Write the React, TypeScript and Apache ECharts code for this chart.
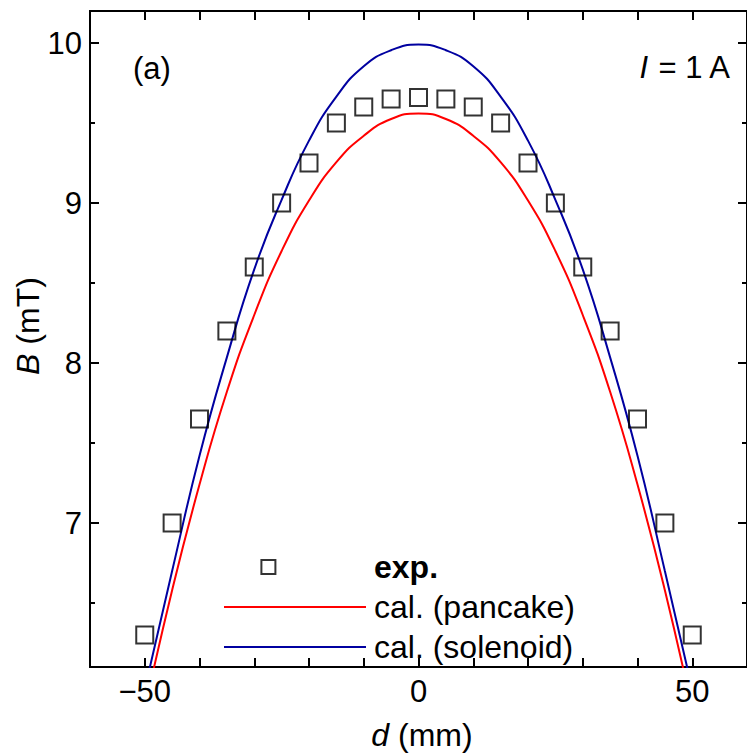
import React, { useEffect, useRef } from "react";
import * as echarts from "echarts";

// Experimental points
const dExp = [-50, -45, -40, -35, -30, -25, -20, -15, -10, -5, 0, 5, 10, 15, 20, 25, 30, 35, 40, 45, 50];
const bExp = [6.3, 7.0, 7.65, 8.2, 8.6, 9.0, 9.25, 9.5, 9.6, 9.65, 9.66, 9.65, 9.6, 9.5, 9.25, 9.0, 8.6, 8.2, 7.65, 7.0, 6.3];

// Calculated curves
const dCal = [-50, -45, -40, -35, -30, -25, -20, -15, -10, -5, 0, 5, 10, 15, 20, 25, 30, 35, 40, 45, 50];
const bPancake = [5.835, 6.58, 7.24, 7.82, 8.3, 8.7, 9.015, 9.255, 9.42, 9.525, 9.56, 9.525, 9.42, 9.255, 9.015, 8.7, 8.3, 7.82, 7.24, 6.58, 5.835];
const bSolenoid = [5.96, 6.7, 7.42, 8.035, 8.585, 9.02, 9.39, 9.665, 9.855, 9.955, 9.99, 9.955, 9.855, 9.665, 9.39, 9.02, 8.585, 8.035, 7.42, 6.7, 5.96];

// Ticks
const xLabelTicks = [-50, 0, 50];
const yMajorTicks = [7, 8, 9, 10];
const yMinorTicks = [6.5, 7.5, 8.5, 9.5];

const FONT = "'Liberation Sans', Arial, Helvetica, sans-serif";

export default function App() {
  const ref = useRef<HTMLDivElement>(null);
  useEffect(() => {
    if (!ref.current) return;
    const chart = echarts.init(ref.current, null, { renderer: "svg" });
    const axisLine = { show: true, onZero: false, lineStyle: { color: "#000", width: 2 } };
    const xCommon = {
      type: "value",
      min: -60,
      max: 60,
      interval: 10,
      splitLine: { show: false },
      axisLine,
    };
    const yCommon = {
      type: "value",
      min: 6.1,
      max: 10.2,
      splitLine: { show: false },
      axisLine,
    };
    const option: any = {
      animation: false,
      backgroundColor: "#fff",
      textStyle: { fontFamily: FONT },
      grid: { left: 90, top: 11, width: 663, height: 656, containLabel: false },
      xAxis: [
        {
          ...xCommon,
          position: "bottom",
          axisTick: { show: true, inside: true, length: 9, lineStyle: { color: "#000", width: 2 } },
          axisLabel: {
            show: true,
            customValues: xLabelTicks,
            margin: 9,
            fontSize: 31,
            color: "#000",
            fontFamily: FONT,
            formatter: (v: number) => String(v).replace("-", "\u2212"),
          },
        },
        {
          ...xCommon,
          position: "top",
          axisTick: { show: true, inside: true, length: 9, lineStyle: { color: "#000", width: 2 } },
          axisLabel: { show: false },
        },
      ],
      yAxis: [
        {
          ...yCommon,
          position: "left",
          axisTick: { show: true, inside: true, length: 9, customValues: yMajorTicks, lineStyle: { color: "#000", width: 2 } },
          axisLabel: { show: true, customValues: yMajorTicks, margin: 8, fontSize: 31, color: "#000", fontFamily: FONT },
        },
        {
          ...yCommon,
          position: "left",
          axisTick: { show: true, inside: true, length: 5, customValues: yMinorTicks, lineStyle: { color: "#000", width: 2 } },
          axisLabel: { show: false },
        },
        {
          ...yCommon,
          position: "right",
          axisTick: { show: true, inside: true, length: 9, customValues: yMajorTicks, lineStyle: { color: "#000", width: 2 } },
          axisLabel: { show: false },
        },
        {
          ...yCommon,
          position: "right",
          axisTick: { show: true, inside: true, length: 5, customValues: yMinorTicks, lineStyle: { color: "#000", width: 2 } },
          axisLabel: { show: false },
        },
      ],
      legend: {
        orient: "vertical",
        left: 218,
        top: 546,
        itemWidth: 142,
        itemHeight: 14,
        itemGap: 8,
        symbolKeepAspect: true,
        textStyle: { fontSize: 32, lineHeight: 31, color: "#000", fontFamily: FONT, padding: [0, 0, 0, 3] },
        data: [
          {
            name: "exp.",
            icon: "path://M0,0 L10,0 L10,10 L0,10 Z M48,5 L48,5",
            itemStyle: { color: "rgba(0,0,0,0)", borderColor: "#000", borderWidth: 2 },
            textStyle: { fontWeight: "bold" },
          },
          { name: "cal. (pancake)", itemStyle: { opacity: 0 } },
          { name: "cal. (solenoid)", itemStyle: { opacity: 0 } },
        ],
      },
      series: [
        {
          name: "cal. (pancake)",
          type: "line",
          xAxisIndex: 0,
          yAxisIndex: 0,
          data: dCal.map((d, i) => [d, bPancake[i]]),
          smooth: true,
          symbol: "none",
          clip: true,
          lineStyle: { color: "#ff0000", width: 2 },
          itemStyle: { color: "#ff0000" },
          z: 2,
        },
        {
          name: "cal. (solenoid)",
          type: "line",
          xAxisIndex: 0,
          yAxisIndex: 0,
          data: dCal.map((d, i) => [d, bSolenoid[i]]),
          smooth: true,
          symbol: "none",
          clip: true,
          lineStyle: { color: "#0000a0", width: 2 },
          itemStyle: { color: "#0000a0" },
          z: 2,
        },
        {
          name: "exp.",
          type: "scatter",
          xAxisIndex: 0,
          yAxisIndex: 0,
          data: dExp.map((d, i) => [d, bExp[i]]),
          symbol: "rect",
          symbolSize: 17,
          itemStyle: { color: "rgba(0,0,0,0)", borderColor: "#000", borderWidth: 2 },
          z: 3,
        },
      ],
      graphic: [
        {
          type: "text",
          x: 133,
          y: 68,
          style: { text: "(a)", font: `31px ${FONT}`, fill: "#000", align: "left", verticalAlign: "middle" },
        },
        {
          type: "text",
          x: 730,
          y: 67,
          style: {
            text: "{i|I} = 1 A",
            font: `31px ${FONT}`,
            fill: "#000",
            align: "right",
            verticalAlign: "middle",
            rich: { i: { fontStyle: "italic", fontSize: 31, fontFamily: FONT, fill: "#000" } },
          },
        },
        {
          type: "text",
          x: 28,
          y: 326,
          rotation: Math.PI / 2,
          style: {
            text: "{i|B} (mT)",
            font: `32px ${FONT}`,
            fill: "#000",
            align: "center",
            verticalAlign: "middle",
            rich: { i: { fontStyle: "italic", fontSize: 32, fontFamily: FONT, fill: "#000" } },
          },
        },
        {
          type: "text",
          x: 422,
          y: 735,
          style: {
            text: "{i|d} (mm)",
            font: `32px ${FONT}`,
            fill: "#000",
            align: "center",
            verticalAlign: "middle",
            rich: { i: { fontStyle: "italic", fontSize: 32, fontFamily: FONT, fill: "#000" } },
          },
        },
      ],
    };
    chart.setOption(option);
    return () => chart.dispose();
  }, []);
  return (
    <div
      ref={ref}
      style={{ position: "fixed", left: 0, top: 0, width: 747, height: 753, background: "#fff" }}
    />
  );
}
